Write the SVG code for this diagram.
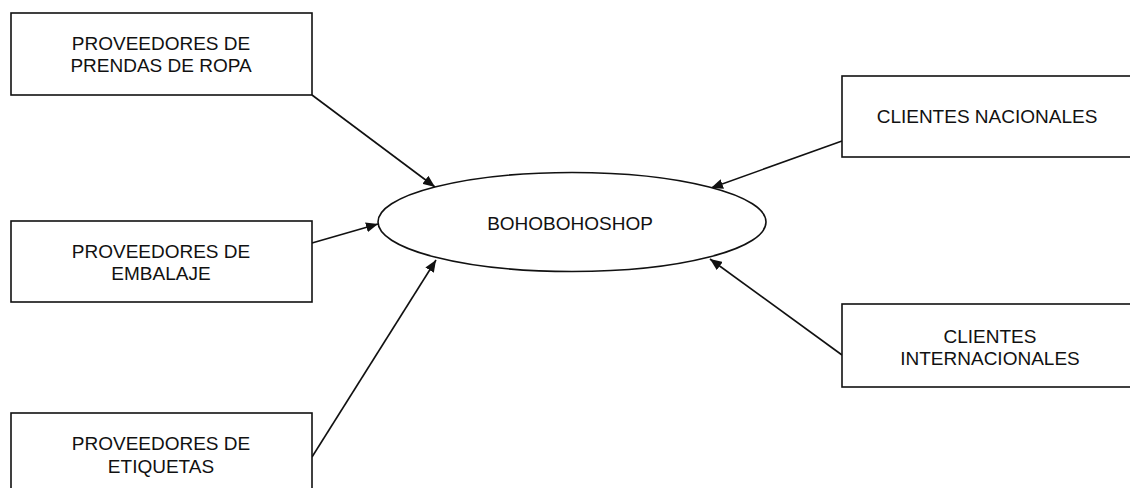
<svg xmlns="http://www.w3.org/2000/svg" width="1130" height="488" viewBox="0 0 1130 488">
<defs>
<style>
.box{fill:#fff;stroke:#111;stroke-width:1.6}
.lbl{font-family:"Liberation Sans",Arial,sans-serif;font-size:19px;fill:#111;text-anchor:middle}
.conn{stroke:#111;stroke-width:1.6;fill:none;marker-end:url(#ah)}
</style>
<marker id="ah" viewBox="0 0 12 10" refX="12" refY="5" markerWidth="12" markerHeight="10" markerUnits="userSpaceOnUse" orient="auto">
<path d="M0,0 L12,5 L0,10 Z" fill="#111"/>
</marker>
</defs>
<rect width="1130" height="488" fill="#fff"/>
<g id="connectors">
<line class="conn" x1="312" y1="95" x2="435" y2="187"/>
<line class="conn" x1="312" y1="243" x2="378" y2="224"/>
<line class="conn" x1="312" y1="457" x2="436" y2="260"/>
<line class="conn" x1="842" y1="141" x2="711" y2="188"/>
<line class="conn" x1="842" y1="355" x2="710" y2="259"/>
</g>
<g id="node-ropa">
<rect class="box" x="11" y="13" width="301" height="82"/>
<text class="lbl" x="161" y="50">PROVEEDORES DE</text>
<text class="lbl" x="161" y="72">PRENDAS DE ROPA</text>
</g>
<g id="node-embalaje">
<rect class="box" x="11" y="221" width="301" height="81"/>
<text class="lbl" x="161" y="258">PROVEEDORES DE</text>
<text class="lbl" x="161" y="280">EMBALAJE</text>
</g>
<g id="node-etiquetas">
<rect class="box" x="11" y="413" width="301" height="100"/>
<text class="lbl" x="161" y="450">PROVEEDORES DE</text>
<text class="lbl" x="161" y="473">ETIQUETAS</text>
</g>
<g id="node-bohobohoshop">
<ellipse class="box" cx="572" cy="222" rx="194" ry="49.5"/>
<text class="lbl" x="570" y="230">BOHOBOHOSHOP</text>
</g>
<g id="node-nacionales">
<rect class="box" x="842" y="76" width="300" height="81"/>
<text class="lbl" x="987" y="123">CLIENTES NACIONALES</text>
</g>
<g id="node-internacionales">
<rect class="box" x="842" y="304" width="300" height="83"/>
<text class="lbl" x="990" y="343">CLIENTES</text>
<text class="lbl" x="990" y="365">INTERNACIONALES</text>
</g>
</svg>
